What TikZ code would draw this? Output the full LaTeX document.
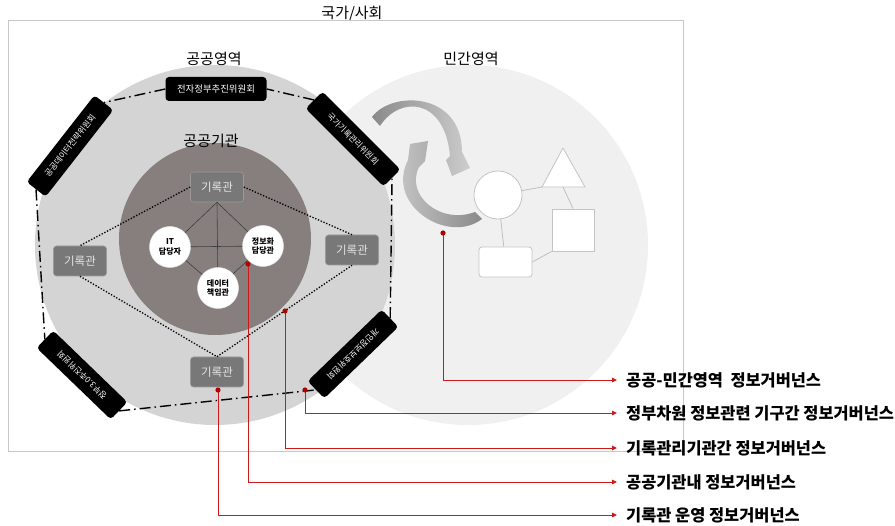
\documentclass[tikz,border=0pt]{standalone}
\usepackage{fontspec}
\setmainfont{Noto Sans CJK KR}
\usetikzlibrary{arrows.meta}
\definecolor{rectgray}{HTML}{C8C8C8}
\definecolor{privfill}{HTML}{F0F0F0}
\definecolor{pubfill}{HTML}{D4D4D4}
\definecolor{instfill}{HTML}{877E7E}
\definecolor{archfill}{HTML}{787878}
\definecolor{archdraw}{HTML}{9A9A9A}
\definecolor{archtext}{HTML}{E4E4E4}
\definecolor{arcdark}{HTML}{8A8A8A}
\definecolor{arclight}{HTML}{CDCDCD}
\definecolor{shapegray}{HTML}{C4C4C4}
\definecolor{linkgray}{HTML}{C0C0C0}
\definecolor{myred}{HTML}{D01818}
\definecolor{mydot}{HTML}{B00000}
\tikzset{
  comm/.style={fill=black, rounded corners=3.5pt, text=white, minimum height=24pt, inner sep=0pt, font=\fontsize{8.3}{10}\selectfont},
  archive/.style={fill=archfill, draw=archdraw, line width=0.6pt, rounded corners=3pt, minimum width=53pt, minimum height=30pt, inner sep=0pt, text=archtext, font=\fontsize{11.5}{13}\selectfont},
  person/.style={circle, fill=white, draw=black!10, line width=0.5pt, minimum size=41pt, inner sep=0pt, align=center, font=\bfseries\fontsize{8}{9.5}\selectfont},
  glabel/.style={anchor=west, inner xsep=9pt, inner ysep=0pt, font=\bfseries\fontsize{16.4}{19}\selectfont},
  areatitle/.style={inner sep=0pt, font=\fontsize{15}{18}\selectfont},
  committeeline/.style={line width=1.4pt, dash pattern=on 11pt off 4pt on 1.5pt off 4pt},
  dotline/.style={line width=1.3pt, dash pattern=on 1.3pt off 1.7pt},
  redline/.style={draw=myred, line width=0.9pt, -{Triangle[length=5pt,width=4.5pt]}},
  reddot/.style={fill=mydot},
  privshape/.style={draw=shapegray, fill=white, line width=0.8pt},
  thinlink/.style={draw=linkgray, line width=0.8pt},
  webline/.style={draw=black!75, line width=0.6pt}
}
\begin{document}
\begin{tikzpicture}[x=1pt,y=-1pt]
\useasboundingbox (0,0) rectangle (895,526);
\fill[white] (0,0) rectangle (895,526);

% national frame
\node[areatitle] (nat) at (352,14) {국가/사회};
\draw[rectgray, line width=1pt] (8,21) rectangle (683,452);

% areas
\fill[privfill] (468,245) circle[radius=180pt];
\fill[pubfill] (215,245) circle[radius=180pt];
\fill[instfill] (215,239) circle[radius=96pt];
\node[areatitle] (pubt) at (214,59) {공공영역};
\node[areatitle] (privt) at (471,59) {민간영역};
\node[areatitle] (instt) at (211,141) {공공기관};

% recycle arrows
\shade[left color=arcdark, right color=arclight] (372,117) .. controls (392,90) and (462,92) .. (462,152) -- (470,168) -- (452,176) -- (446,160) -- (450,156) .. controls (445,98) and (400,95) .. (380,126) -- cycle;
\shade[left color=arclight, right color=arcdark] (482,219) .. controls (448,245) and (385,205) .. (408,160) -- (410,144) -- (428,141) -- (425,161) -- (419,167) .. controls (405,195) and (440,225) .. (475,212) -- cycle;

% private shapes
\coordinate (tritop) at (563,148);
\coordinate (tribl) at (542,187);
\coordinate (tribr) at (585,187);
\coordinate (tribot) at (563,187);
\node[privshape, circle, minimum size=48pt, inner sep=0pt] (pc) at (498,195) {};
\node[privshape, minimum size=42pt, inner sep=0pt] (psq) at (573,230) {};
\node[privshape, rounded corners=3pt, minimum width=53pt, minimum height=30pt, inner sep=0pt] (prr) at (505.5,262) {};
\draw[thinlink] (pc) -- (tribl);
\draw[thinlink] (tribot) -- (psq.north);
\draw[thinlink] (psq.south west) -- (prr.east);
\draw[thinlink] (pc) -- (prr);
\filldraw[privshape, line join=round] (tritop) -- (tribl) -- (tribr) -- cycle;

% committees
\node[comm, minimum width=101pt, font=\fontsize{9.4}{11}\selectfont] (tb) at (216,89) {전자정부추진위원회};
\node[comm, minimum width=110pt, rotate=52] (tl) at (70,146) {공공데이터전략위원회};
\node[comm, minimum width=110pt, rotate=-45] (tr) at (353,139) {국가기록관리위원회};
\node[comm, minimum width=103pt, rotate=136] (bl) at (82,375) {정부3.0추진위원회};
\node[comm, minimum width=103pt, rotate=-136] (br) at (353,354) {개인정보보호위원회};
\draw[committeeline] (tb.west) -- (tl.east);
\draw[committeeline] (tl.west) -- (bl.east);
\draw[committeeline] (bl.west) -- (br.east);
\draw[committeeline] (br.west) -- (tr.east);
\draw[committeeline] (tr.west) -- (tb.east);

% archives
\node[archive] (at) at (217,187) {기록관};
\node[archive] (al) at (80,261) {기록관};
\node[archive] (ar) at (352,250) {기록관};
\node[archive] (ab) at (217,372) {기록관};
\draw[dotline] (at.west) -- (al.north);
\draw[dotline] (at.east) -- (ar.north);
\draw[dotline] (al.south) -- (ab.north);
\draw[dotline] (ab.north) -- (ar.south);

% persons
\node[person] (it) at (170,247) {IT\\담당자};
\node[person] (info) at (263,246) {정보화\\담당관};
\node[person] (data) at (218,288) {데이터\\책임관};
\draw[webline] (at.south) -- (it);
\draw[webline] (at.south) -- (info);
\draw[webline] (at.south) -- (data);
\draw[webline] (it) -- (info);
\draw[webline] (it) -- (data);
\draw[webline] (data) -- (info);

% governance labels
\node[glabel] (l1) at (617,380) {공공-민간영역\ \ 정보거버넌스};
\node[glabel] (l2) at (617,413) {정부차원 정보관련 기구간 정보거버넌스};
\node[glabel] (l3) at (617,448) {기록관리기관간 정보거버넌스};
\node[glabel] (l4) at (617,482) {공공기관내 정보거버넌스};
\node[glabel] (l5) at (617,515) {기록관 운영 정보거버넌스};

\coordinate (r1) at (443,233);
\coordinate (r2) at (305,390);
\coordinate (r3) at (285,311);
\coordinate (r4) at (248,264);
\coordinate (r5) at (218,390);
\draw[redline] (r1) |- (l1.west);
\draw[redline] (r2) |- (l2.west);
\draw[redline] (r3) |- (l3.west);
\draw[redline] (r4) |- (l4.west);
\draw[redline] (r5) |- (l5.west);
\foreach \p in {r1,r2,r3,r4,r5} \fill[reddot] (\p) circle[radius=2.6pt];
\end{tikzpicture}
\end{document}
